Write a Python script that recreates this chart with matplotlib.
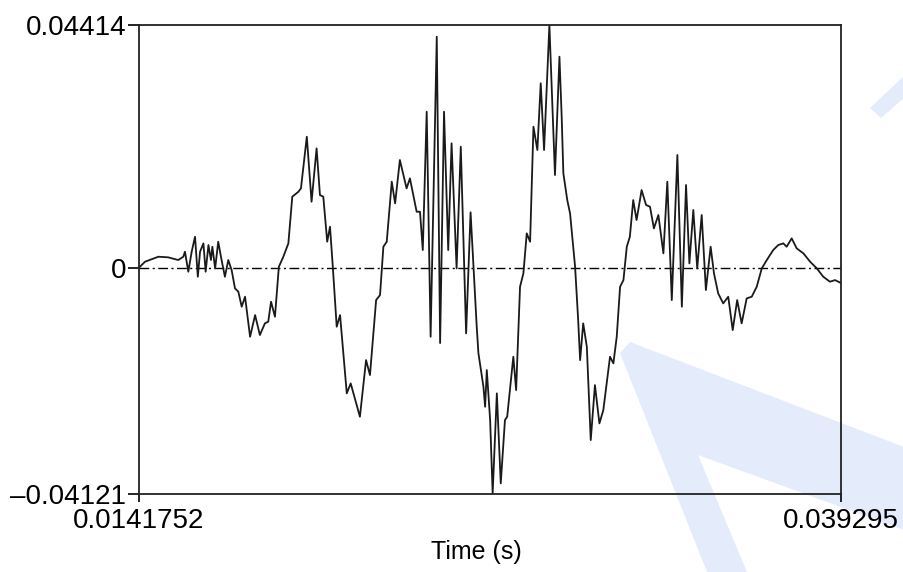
import numpy as np
import matplotlib
matplotlib.use('Agg')
import matplotlib.pyplot as plt
from matplotlib.patches import Polygon

# waveform samples: time in ms, amplitude in units of 1e-3
t_ms = [14.18, 14.39, 14.87, 15.22, 15.58, 15.76, 15.82, 15.94, 16.06, 16.18,
        16.28, 16.36, 16.48, 16.56, 16.66, 16.75, 16.80, 16.90, 17.01, 17.13,
        17.25, 17.37, 17.49, 17.61, 17.73, 17.85, 17.97, 18.15, 18.33, 18.50,
        18.68, 18.80, 18.90, 19.04, 19.18, 19.34, 19.52, 19.66, 19.88, 19.97,
        20.18, 20.35, 20.53, 20.65, 20.77, 20.91, 21.01, 21.11, 21.25, 21.37,
        21.61, 21.75, 22.08, 22.30, 22.44, 22.66, 22.80, 22.92, 23.04, 23.22,
        23.34, 23.51, 23.75, 23.87, 24.11, 24.23, 24.33, 24.47, 24.61, 24.83,
        24.95, 25.09, 25.24, 25.36, 25.54, 25.69, 25.88, 26.04, 26.26, 26.32,
        26.50, 26.56, 26.62, 26.74, 26.83, 26.98, 27.12, 27.27, 27.35, 27.57,
        27.67, 27.81, 27.93, 28.05, 28.17, 28.29, 28.43, 28.55, 28.67, 28.86,
        28.98, 29.06, 29.22, 29.30, 29.36, 29.50, 29.60, 29.78, 29.89, 29.96,
        30.07, 30.20, 30.34, 30.49, 30.65, 30.79, 31.03, 31.15, 31.27, 31.39,
        31.51, 31.63, 31.74, 31.86, 31.98, 32.16, 32.32, 32.46, 32.60, 32.76,
        32.94, 33.08, 33.24, 33.44, 33.60, 33.75, 33.87, 34.01, 34.15, 34.31,
        34.46, 34.63, 34.75, 34.90, 35.08, 35.26, 35.42, 35.58, 35.74, 35.92,
        36.10, 36.28, 36.46, 36.64, 36.87, 37.05, 37.23, 37.35, 37.53, 37.71,
        37.95, 38.19, 38.43, 38.66, 38.90, 39.08, 39.295]
amp = [0.0, 1.06, 1.97, 1.86, 1.37, 1.97, 2.88, -0.76, 2.88, 5.61,
       -1.67, 2.88, 4.40, -0.76, 4.10, 1.37, 3.79, -0.15, 4.70, 1.37,
       -1.67, 1.37, -0.46, -3.79, -4.40, -7.13, -5.31, -12.59, -8.65, -12.28,
       -10.16, -9.86, -6.22, -8.95, 0.15, 1.97, 4.40, 12.89, 13.80, 14.41,
       23.81, 11.98, 21.69, 13.19, 12.89, 4.70, 7.43, 0.15, -10.77, -8.65,
       -22.90, -21.08, -27.15, -16.84, -19.57, -5.92, -5.01, 3.79, 4.70, 15.62,
       11.68, 19.57, 14.41, 16.23, 10.16, 10.16, 3.19, 28.36, -12.59, 42.01,
       -13.74, 28.36, 3.19, 22.60, -0.15, 21.99, -11.98, 10.05, -10.77, -15.56,
       -21.69, -25.33, -18.66, -27.75, -41.10, -22.90, -39.28, -27.75, -27.15, -16.23,
       -22.30, -3.49, -1.06, 6.22, 4.70, 25.63, 21.39, 33.52, 21.39, 44.14,
       27.45, 16.84, 38.37, 27.45, 17.15, 12.28, 9.86, 0.15, -9.56, -16.84,
       -10.16, -14.41, -31.40, -21.39, -28.36, -25.94, -16.23, -17.44, -12.59, -3.49,
       -2.28, 3.79, 5.61, 12.28, 8.65, 14.10, 11.38, 11.07, 7.13, 9.56,
       2.58, 15.62, -5.92, 20.48, -7.13, 15.02, 0.76, 10.47, -0.15, 9.56,
       -4.10, 3.79, -1.06, -4.70, -6.52, -5.31, -11.38, -5.92, -10.16, -5.61,
       -5.31, -3.49, -0.15, 1.37, 3.19, 4.10, 4.40, 3.79, 5.31, 3.49,
       2.58, 1.06, -0.15, -1.67, -2.58, -2.28, -2.82]

t_start, t_end = 0.0141752, 0.039295
y_min, y_max = -0.04121, 0.04414

t = np.array(t_ms) / 1000.0
y = np.array(amp) / 1000.0

plt.rcParams['font.family'] = ['Liberation Sans', 'DejaVu Sans']

W, H = 904, 572
fig = plt.figure(figsize=(W / 100, H / 100), dpi=100)
ax = fig.add_axes([139 / W, 78 / H, 702 / W, 469 / H])
ax.patch.set_alpha(0)

# faint logo shapes in the background
def px(points):
    return [(x / W, 1 - yy / H) for x, yy in points]

logo_color = '#e4ecfb'
shapes = [
    [(620, 353), (630, 342), (904, 447), (904, 530), (698, 455), (747, 572), (707, 572)],
    [(870, 108), (881, 118), (904, 98), (904, 76)],
]
for s in shapes:
    fig.patches.append(Polygon(px(s), closed=True, transform=fig.transFigure,
                               facecolor=logo_color, edgecolor='none', zorder=-1))

ax.axhline(0, color='black', lw=1.0, dashes=(7, 2.5, 1.5, 2.5), zorder=1)
ax.plot(t, y, color='#1a1a1a', lw=1.3, zorder=2)

ax.set_xlim(t_start, t_end)
ax.set_ylim(y_min, y_max)

ax.set_xticks([t_start, t_end])
ax.set_xticklabels(['0.0141752', '0.039295'])
ax.set_yticks([y_min, 0, y_max])
ax.set_yticklabels(['\u20130.04121', '0', '0.04414'])

ax.tick_params(axis='y', direction='out', length=8, width=1.2, pad=1, labelsize=20)
ax.tick_params(axis='x', direction='out', length=6, width=1.2, pad=4, labelsize=20)
for sp in ax.spines.values():
    sp.set_linewidth(1.3)
    sp.set_color('#222222')

ax.set_xlabel('Time (s)', fontsize=18)
ax.xaxis.set_label_coords(0.48, -0.098)

fig.savefig('out.png', dpi=100)
